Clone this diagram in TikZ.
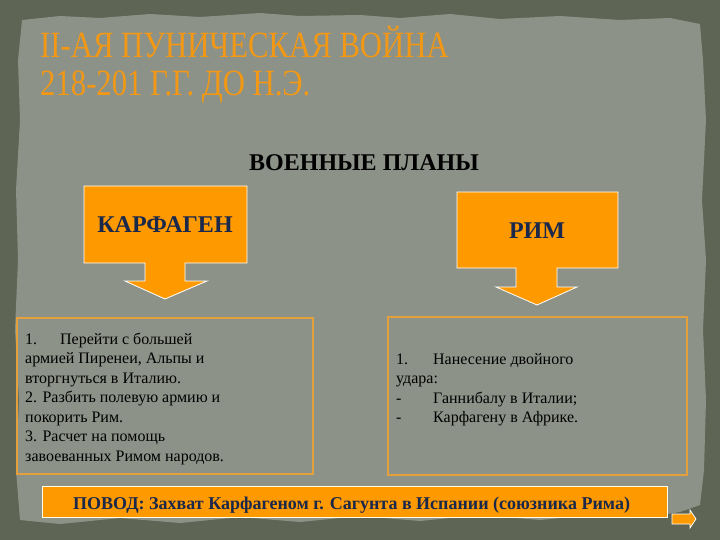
\documentclass[tikz,border=0pt]{standalone}
\usepackage{fontspec}
\setmainfont{Liberation Serif}
\definecolor{outerbg}{RGB}{94,101,84}
\definecolor{panel}{RGB}{141,146,136}
\definecolor{orng}{RGB}{255,153,0}
\definecolor{titleor}{RGB}{242,152,20}
\definecolor{navy}{RGB}{25,40,75}
\definecolor{boxline}{RGB}{228,160,60}
\tikzset{
  callout/.style={fill=orng, draw=white, line width=0.8pt, line join=miter},
  calltext/.style={font=\fontsize{24}{28}\selectfont\bfseries, text=navy, inner sep=0pt, anchor=base},
  planbox/.style={draw=boxline, line width=1.4pt},
  plantext/.style={font=\fontsize{16}{19.5}\selectfont, text=black, inner sep=0pt, anchor=base west, align=left},
  titletext/.style={anchor=base west, inner sep=0pt, text=titleor, font=\fontsize{37}{40}\selectfont},
}
\begin{document}
\begin{tikzpicture}[x=1pt,y=-1pt]
\useasboundingbox (0,0) rectangle (720,540);
\fill[outerbg] (0,0) rectangle (720,540);
% torn panel
\fill[panel] (22,20) -- (60,16) -- (100,18) -- (150,14) -- (200,17) -- (260,13) -- (300,16) -- (360,15) -- (400,18) -- (450,14) -- (500,19) -- (560,16) -- (620,20) -- (670,18) -- (700,24)
 -- (703,60) -- (706,120) -- (702,200) -- (706,260) -- (703,330) -- (706,400) -- (704,470) -- (700,505)
 -- (680,512) -- (640,518) -- (600,514) -- (540,520) -- (480,515) -- (420,521) -- (360,516) -- (300,522) -- (240,517) -- (180,523) -- (120,518) -- (60,524) -- (20,520)
 -- (16,470) -- (19,400) -- (15,330) -- (18,260) -- (16,190) -- (20,120) -- (18,60) -- cycle;

% title
\node[titletext] (t1) at (40,58) {\scalebox{0.83}[1]{II-АЯ ПУНИЧЕСКАЯ ВОЙНА}};
\node[titletext] (t2) at (40,96) {\scalebox{0.83}[1]{218-201 Г.Г. ДО Н.Э.}};

% subtitle
\node[anchor=base, inner sep=0pt, font=\fontsize{24}{28}\selectfont\bfseries] (plans) at (364,171) {ВОЕННЫЕ ПЛАНЫ};

% left callout
\draw[callout] (84,186) -- (247,186) -- (247,263) -- (185,263) -- (185,281) -- (207,281) -- (165,299) -- (125,281) -- (145,281) -- (145,263) -- (84,263) -- cycle;
\node[calltext] (carth) at (165,233) {КАРФАГЕН};

% right callout
\draw[callout] (457,192) -- (618,192) -- (618,268) -- (557,268) -- (557,287) -- (577,287) -- (537,305) -- (496,287) -- (516,287) -- (516,268) -- (457,268) -- cycle;
\node[calltext] (rome) at (537,239) {РИМ};

% plan boxes (node base = baseline of last line)
\draw[planbox] (17,318) rectangle (313,474);
\node[plantext] (ltext) at (25,461) {\makebox[35pt][l]{1.}Перейти с большей\\
армией Пиренеи, Альпы и\\
вторгнуться в Италию.\\
2. Разбить полевую армию и\\
покорить Рим.\\
3. Расчет на помощь\\
завоеванных Римом народов.};

\draw[planbox] (388,317) rectangle (687,475);
\node[plantext] (rtext) at (396,422.5) {\makebox[37pt][l]{1.}Нанесение двойного\\
удара:\\
\makebox[37pt][l]{-}Ганнибалу в Италии;\\
\makebox[37pt][l]{-}Карфагену в Африке.};

% banner
\node[draw=white!90!yellow, line width=0.8pt, fill=orng, minimum width=625pt, minimum height=31pt, inner sep=0pt, anchor=north west] (ban) at (42,486) {};
\node[anchor=base west, inner sep=0pt, text=navy, font=\fontsize{18}{20}\selectfont\bfseries] (bantext) at (73,509) {ПОВОД: Захват Карфагеном г. Сагунта в Испании (союзника Рима)};

% small next arrow
\draw[callout] (672,514) -- (690,514) -- (690,510) -- (696,519) -- (690,528) -- (690,524) -- (672,524) -- cycle;
\end{tikzpicture}
\end{document}
